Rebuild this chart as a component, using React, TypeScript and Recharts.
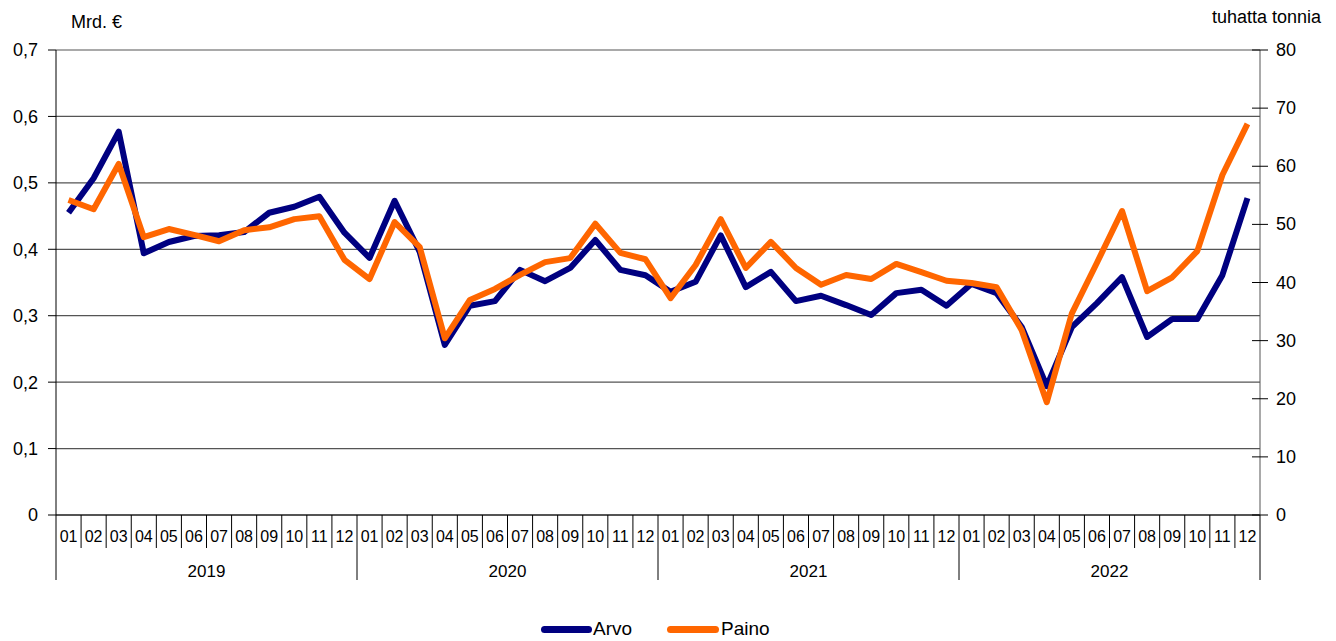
import { LineChart, Line, XAxis, YAxis, CartesianGrid } from 'recharts';

const years = ['2019', '2020', '2021', '2022'];
const months = ['01', '02', '03', '04', '05', '06', '07', '08', '09', '10', '11', '12'];

// Arvo, Mrd. € (left axis)
const arvo = [
  0.455, 0.507, 0.577, 0.394, 0.411, 0.42, 0.421, 0.426, 0.455, 0.464, 0.479, 0.425,
  0.387, 0.473, 0.396, 0.256, 0.315, 0.322, 0.369, 0.352, 0.372, 0.414, 0.369, 0.361,
  0.336, 0.351, 0.421, 0.343, 0.366, 0.322, 0.33, 0.316, 0.301, 0.334, 0.339, 0.315,
  0.348, 0.334, 0.283, 0.194, 0.283, 0.319, 0.358, 0.268, 0.295, 0.295, 0.361, 0.477,
];

// Paino, tuhatta tonnia (right axis)
const paino = [
  54.2, 52.6, 60.4, 47.8, 49.2, 48.2, 47.1, 49.0, 49.5, 50.9, 51.4, 43.9,
  40.6, 50.4, 46.1, 30.4, 37.0, 38.9, 41.3, 43.5, 44.2, 50.1, 45.1, 44.0,
  37.3, 43.0, 50.9, 42.5, 47.0, 42.5, 39.6, 41.3, 40.6, 43.2, 41.8, 40.3,
  39.9, 39.2, 31.8, 19.4, 34.7, 43.4, 52.3, 38.5, 40.9, 45.4, 58.5, 67.3,
];

const leftTicks = [0, 0.1, 0.2, 0.3, 0.4, 0.5, 0.6, 0.7];
const rightTicks = [0, 10, 20, 30, 40, 50, 60, 70, 80];

const data = years.flatMap((year, yi) =>
  months.map((month, mi) => ({
    key: `${year}-${month}`,
    month,
    year,
    arvo: arvo[yi * 12 + mi],
    paino: paino[yi * 12 + mi],
  }))
);

const W = 1336;
const H = 641;
const PLOT_LEFT = 56;
const PLOT_RIGHT = 1260;
const BW = (PLOT_RIGHT - PLOT_LEFT) / data.length;
const FONT = '"Liberation Sans", Arial, sans-serif';

const MonthTick = (props: any) => {
  const { x, y, index } = props;
  const d = data[index];
  const left = x - BW / 2;
  const isYearStart = index % 12 === 0;
  const isLast = index === data.length - 1;
  return (
    <g>
      <line x1={left} y1={y} x2={left} y2={y + (isYearStart ? 65 : 33)} stroke="#000" strokeWidth={1} />
      {isLast && (
        <line x1={x + BW / 2} y1={y} x2={x + BW / 2} y2={y + 65} stroke="#000" strokeWidth={1} />
      )}
      <text x={x} y={y + 27} textAnchor="middle" fontSize={16} fill="#000" fontFamily={FONT}>
        {d.month}
      </text>
      {isYearStart && (
        <text x={left + 6 * BW} y={y + 62} textAnchor="middle" fontSize={17} fill="#000" fontFamily={FONT}>
          {d.year}
        </text>
      )}
    </g>
  );
};

const RightTick = (props: any) => {
  const { x, y, payload } = props;
  const axisX = x - 16;
  return (
    <g>
      <line x1={axisX - 8} y1={y} x2={axisX + 8} y2={y} stroke="#000" strokeWidth={1} />
      <text x={x} y={y} dy={6} textAnchor="start" fontSize={18} fill="#000" fontFamily={FONT}>
        {payload.value}
      </text>
    </g>
  );
};

const fmtLeft = (v: number) => (v === 0 ? '0' : v.toFixed(1).replace('.', ','));

export default function App() {
  return (
    <div style={{ position: 'absolute', left: 0, top: 0, width: W, height: H, background: '#fff', fontFamily: FONT }}>
      <LineChart width={W} height={H} data={data} margin={{ top: 50, right: 0, left: 0, bottom: 56 }}>
        <CartesianGrid vertical={false} stroke="#555" strokeWidth={1.2} yAxisId="left" />
        <XAxis
          dataKey="key"
          interval={0}
          height={70}
          padding={{ left: BW / 2, right: BW / 2 }}
          tickSize={0}
          tickMargin={0}
          tickLine={false}
          axisLine={{ stroke: '#000' }}
          tick={<MonthTick />}
        />
        <YAxis
          yAxisId="left"
          orientation="left"
          width={56}
          domain={[0, 0.7]}
          ticks={leftTicks}
          tickFormatter={fmtLeft}
          tickSize={8}
          tickMargin={10}
          axisLine={{ stroke: '#000' }}
          tickLine={{ stroke: '#000' }}
          tick={{ fontSize: 18, fill: '#000', fontFamily: FONT }}
        />
        <YAxis
          yAxisId="right"
          orientation="right"
          width={76}
          domain={[0, 80]}
          ticks={rightTicks}
          tickSize={8}
          tickMargin={8}
          axisLine={{ stroke: '#555' }}
          tickLine={false}
          tick={<RightTick />}
        />
        <Line
          yAxisId="left"
          type="linear"
          dataKey="arvo"
          stroke="#000080"
          strokeWidth={6}
          dot={false}
          strokeLinejoin="round"
          isAnimationActive={false}
        />
        <Line
          yAxisId="right"
          type="linear"
          dataKey="paino"
          stroke="#FF6600"
          strokeWidth={6}
          dot={false}
          strokeLinejoin="round"
          isAnimationActive={false}
        />
      </LineChart>
      <div style={{ position: 'absolute', left: 71, top: 12, fontSize: 18, color: '#000' }}>Mrd. €</div>
      <div style={{ position: 'absolute', right: 15, top: 7, fontSize: 18, color: '#000' }}>tuhatta tonnia</div>
      <div style={{ position: 'absolute', left: 541, top: 618, display: 'flex', fontSize: 19, color: '#000' }}>
        <div style={{ display: 'flex', alignItems: 'center', marginRight: 35 }}>
          <span style={{ display: 'inline-block', width: 51, height: 7, borderRadius: 4, background: '#000080', marginRight: 1 }} />
          <span>Arvo</span>
        </div>
        <div style={{ display: 'flex', alignItems: 'center' }}>
          <span style={{ display: 'inline-block', width: 52, height: 7, borderRadius: 4, background: '#FF6600', marginRight: 2 }} />
          <span>Paino</span>
        </div>
      </div>
    </div>
  );
}
